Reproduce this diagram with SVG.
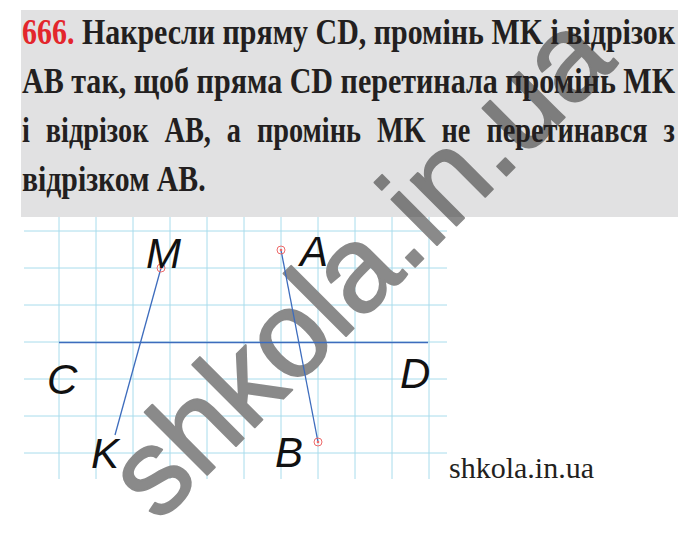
<svg xmlns="http://www.w3.org/2000/svg" width="700" height="547" viewBox="0 0 700 547">
<style>
.hdr{font-family:"Liberation Serif","Times New Roman",serif;font-weight:bold;font-size:35px;fill:#231f20}
.num{fill:#e3262c}
.grid line{stroke:#a8dcec;stroke-width:1}
.lbl{font-family:"Liberation Sans",Arial,sans-serif;font-style:italic;font-size:42px;fill:#111}
.seg{stroke:#3d6cbd;stroke-width:1.3;fill:none}
.pt{fill:none;stroke:#ee6a6a;stroke-width:1}
.ptc{fill:#ee6a6a}
.wm{font-family:"Liberation Sans",Arial,sans-serif;font-size:122px;stroke-width:2;stroke-linejoin:round}
.site{font-family:"Liberation Serif","Times New Roman",serif;font-size:30px;fill:#231f20}
</style>
<defs>
<clipPath id="inbox"><rect x="21" y="10" width="657" height="207"/></clipPath>
<clipPath id="outbox"><path d="M0 0H700V547H0Z M21 10V217H678V10Z" clip-rule="evenodd"/></clipPath>
<text id="wmt" class="wm" x="158" y="524" transform="rotate(-45 158 524)">shkola.in.ua</text>
</defs>
<rect width="700" height="547" fill="#fff"/>
<g id="header-box">
<rect x="21" y="10" width="657" height="207" fill="#e1e1e2"/>
</g>
<g id="grid" class="grid">
<line x1="59" y1="217" x2="59" y2="479"/>
<line x1="96" y1="217" x2="96" y2="479"/>
<line x1="133" y1="217" x2="133" y2="479"/>
<line x1="170" y1="217" x2="170" y2="479"/>
<line x1="207" y1="217" x2="207" y2="479"/>
<line x1="244" y1="217" x2="244" y2="479"/>
<line x1="281" y1="217" x2="281" y2="479"/>
<line x1="318" y1="217" x2="318" y2="479"/>
<line x1="355" y1="217" x2="355" y2="479"/>
<line x1="392" y1="217" x2="392" y2="479"/>
<line x1="429" y1="217" x2="429" y2="479"/>
<line x1="24" y1="231" x2="447" y2="231"/>
<line x1="24" y1="268" x2="447" y2="268"/>
<line x1="24" y1="305" x2="447" y2="305"/>
<line x1="24" y1="342" x2="447" y2="342"/>
<line x1="24" y1="379" x2="447" y2="379"/>
<line x1="24" y1="416" x2="447" y2="416"/>
<line x1="24" y1="453" x2="447" y2="453"/>
</g>
<g id="watermark">
<use href="#wmt" clip-path="url(#inbox)" fill="#7d7d7d" stroke="#7d7d7d"/>
<use href="#wmt" clip-path="url(#outbox)" fill="#8a8a8a" stroke="#8a8a8a"/>
</g>
<g id="header-text">
<text class="hdr" x="22" y="44" textLength="653" lengthAdjust="spacingAndGlyphs"><tspan class="num">666.</tspan> Накресли пряму CD, промінь MK і відрізок</text>
<text class="hdr" x="22" y="93" textLength="653" lengthAdjust="spacingAndGlyphs">AB так, щоб пряма CD перетинала промінь MK</text>
<text class="hdr" x="22" y="142" textLength="653" lengthAdjust="spacingAndGlyphs" word-spacing="11">і відрізок AB, а промінь MK не перетинався з</text>
<text class="hdr" x="22" y="191" transform="translate(3.3,0) scale(0.85,1)">відрізком AB.</text>
</g>
<g id="connectors">
<line class="seg" x1="59" y1="342.5" x2="428" y2="342.5" stroke-width="1.6"/>
<line class="seg" x1="161" y1="268" x2="115" y2="435"/>
<line class="seg" x1="281" y1="250" x2="318" y2="442"/>
</g>
<g id="point-M"><circle class="pt" cx="161" cy="268" r="4"/><circle class="ptc" cx="161" cy="268" r="1.3"/><text class="lbl" x="146" y="268">M</text></g>
<g id="point-K"><text class="lbl" x="91" y="468">K</text></g>
<g id="point-A"><circle class="pt" cx="281" cy="250" r="4"/><circle class="ptc" cx="281" cy="250" r="1.3"/><text class="lbl" x="300" y="266">A</text></g>
<g id="point-B"><circle class="pt" cx="318" cy="442" r="4"/><circle class="ptc" cx="318" cy="442" r="1.3"/><text class="lbl" x="275" y="467">B</text></g>
<g id="label-C"><text class="lbl" x="47" y="394">C</text></g>
<g id="label-D"><text class="lbl" x="400" y="388">D</text></g>
<text class="site" x="449" y="478">shkola.in.ua</text>
</svg>
